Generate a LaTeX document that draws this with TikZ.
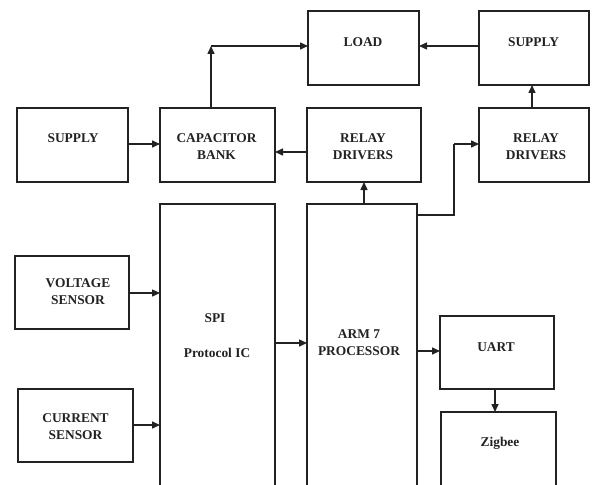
\documentclass[tikz,border=0pt]{standalone}
\usepackage{fontspec}
\setmainfont{Liberation Serif}
\usetikzlibrary{arrows.meta}
\definecolor{ink}{HTML}{222222}
\tikzset{
  box/.style={draw=ink, line width=1.5pt, rectangle, inner sep=0pt, outer sep=0pt},
  lbl/.style={font=\fontsize{13.4}{17}\selectfont\bfseries, align=center, inner sep=0pt, text=ink},
  arr/.style={draw=ink, line width=1.5pt, -{Triangle[length=8pt,width=7pt]}},
  ln/.style={draw=ink, line width=1.5pt}
}
\begin{document}
\begin{tikzpicture}[x=1pt,y=-1pt]
\useasboundingbox (0,0) rectangle (593,484);
\clip (0,0) rectangle (593,484);
% boxes
\node[box, minimum width=111, minimum height=74] (sup1) at (72.5,145) {};
\node[box, minimum width=115, minimum height=74] (cap) at (217.5,145) {};
\node[box, minimum width=111, minimum height=74] (load) at (363.5,48) {};
\node[box, minimum width=110, minimum height=74] (sup2) at (534,48) {};
\node[box, minimum width=114, minimum height=74] (rel1) at (364,145) {};
\node[box, minimum width=110, minimum height=74] (rel2) at (534,145) {};
\node[box, minimum width=115, minimum height=316] (spi) at (217.5,362) {};
\node[box, minimum width=110, minimum height=316] (arm) at (362,362) {};
\node[box, minimum width=114, minimum height=73] (volt) at (72,292.5) {};
\node[box, minimum width=115, minimum height=73] (curr) at (75.5,425.5) {};
\node[box, minimum width=114, minimum height=73] (uart) at (497,352.5) {};
\node[box, minimum width=115, minimum height=200] (zig) at (498.5,512) {};
% labels
\node[lbl] (tsup1) at (73,138) {SUPPLY};
\node[lbl] (tcap) at (216.5,146.5) {CAPACITOR\\BANK};
\node[lbl] (tload) at (363,42) {LOAD};
\node[lbl] (tsup2) at (533.5,42) {SUPPLY};
\node[lbl] (trel1) at (363,146.5) {RELAY\\DRIVERS};
\node[lbl] (trel2) at (536,146.5) {RELAY\\DRIVERS};
\node[lbl] (tvolt) at (78,292) {VOLTAGE\\SENSOR};
\node[lbl] (tcurr) at (75.5,426.5) {CURRENT\\SENSOR};
\node[lbl] (tspi1) at (215,318) {SPI};
\node[lbl] (tspi2) at (217,353) {Protocol IC};
\node[lbl] (tarm) at (359,343) {ARM 7\\PROCESSOR};
\node[lbl] (tuart) at (496,347) {UART};
\node[lbl] (tzig) at (500,443) {Zigbee};
% coordinates
\coordinate (c1) at (211,46);
\coordinate (c2) at (454,215);
\coordinate (c3) at (454,144);
% connectors
\draw[arr] (sup1.east |- 0,144) -- (cap.west |- 0,144);
\draw[arr] (c1 |- cap.north) -- (c1);
\draw[arr] (c1) -- (load.west |- c1);
\draw[arr] (sup2.west |- 0,46) -- (load.east |- 0,46);
\draw[arr] (rel1.west |- 0,152) -- (cap.east |- 0,152);
\draw[arr] (rel1.south |- arm.north) -- (rel1.south);
\draw[arr] ([xshift=-2pt]rel2.north) -- ([xshift=-2pt]sup2.south);
\draw[ln] (arm.east |- c2) -- (c2) -- (c3);
\draw[arr] (c3) -- (rel2.west |- c3);
\draw[arr] (volt.east |- 0,293) -- (spi.west |- 0,293);
\draw[arr] (curr.east |- 0,425) -- (spi.west |- 0,425);
\draw[arr] (spi.east |- 0,343) -- (arm.west |- 0,343);
\draw[arr] (arm.east |- 0,351) -- (uart.west |- 0,351);
\draw[arr] ([xshift=-2pt]uart.south) -- ([xshift=-2pt]uart.south |- zig.north);
\end{tikzpicture}
\end{document}
